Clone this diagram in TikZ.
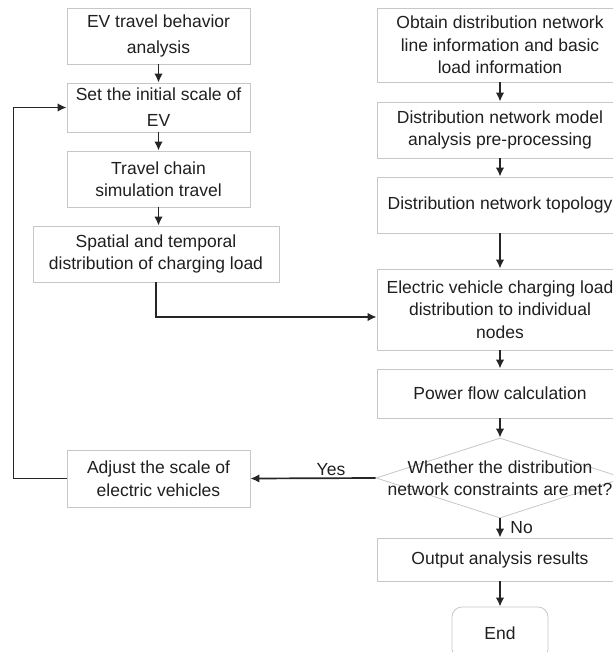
\documentclass[tikz,border=0pt]{standalone}
\usepackage{fontspec}
\setmainfont{Liberation Sans}
\usetikzlibrary{arrows.meta,shapes.geometric}

\begin{document}
\begin{tikzpicture}[x=1pt,y=-1pt,
  box/.style={draw=black!22,line width=0.8pt,align=center,inner sep=0pt,
    text=black!88,font=\fontsize{17.5}{22.5}\selectfont},
  flow/.style={-{Latex[length=9pt,width=8.5pt]},line width=1.7pt,black!85}]
\useasboundingbox (0,0) rectangle (613,652);
\clip (0,0) rectangle (613,652);
% left column
\node[box,minimum width=183,minimum height=56] (behav) at (158.5,36) {EV travel behavior\\[3.5pt]analysis};
\node[box,minimum width=183,minimum height=49] (init) at (158.5,107.5) {Set the initial scale of\\[3.5pt]EV};
\node[box,minimum width=183,minimum height=56] (chain) at (158.5,179) {Travel chain\\simulation travel};
\node[box,minimum width=246,minimum height=56] (load) at (156,254) {Spatial and temporal\\distribution of charging load};
\node[box,minimum width=183,minimum height=57] (adjust) at (158.5,478.5) {Adjust the scale of\\electric vehicles};
% right column
\node[box,minimum width=246,minimum height=74] (info) at (500,45) {Obtain distribution network\\line information and basic\\load information};
\node[box,minimum width=246,minimum height=56] (prep) at (500,130) {Distribution network model\\analysis pre-processing};
\node[box,minimum width=246,minimum height=56] (topo) at (500,205) {Distribution network topology};
\node[box,minimum width=246,minimum height=81] (nodes) at (500,309.5) {Electric vehicle charging load\\distribution to individual\\nodes};
\node[box,minimum width=246,minimum height=49] (pflow) at (500,393.5) {Power flow calculation};
\node[draw=black!22,line width=0.8pt,diamond,aspect=3.075,inner sep=0pt,
  minimum width=248,minimum height=80] (check) at (500,478) {};
\node[box,draw=none] (checktext) at (500,478) {Whether the distribution\\network constraints are met?};
\node[box,minimum width=246,minimum height=43] (output) at (500,559.5) {Output analysis results};
\node[box,rounded corners=10pt,minimum width=96,minimum height=52] (end) at (500,633) {End};
% connectors
\draw[flow] (behav) -- (init);
\draw[flow] (init) -- (chain);
\draw[flow] (chain.south) -- (chain.south |- load.north);
\draw[flow] (load.south) |- ([yshift=-7.5pt]nodes.west);
\draw[flow] (info) -- (prep);
\draw[flow] (prep) -- (topo);
\draw[flow] (topo) -- (nodes);
\draw[flow] (nodes) -- (pflow);
\draw[flow] (pflow) -- (check);
\draw[flow] (check) -- (output);
\draw[flow] (output) -- (end);
\draw[flow] (check.west) -- node[above=2pt,box,draw=none,xshift=18pt] (yes) {Yes} (adjust.east);
\node[box,draw=none,anchor=west] (no) at (510,528) {No};
\draw[flow] (adjust.west) -- ++(-53,0) |- (init.west);
\end{tikzpicture}
\end{document}
